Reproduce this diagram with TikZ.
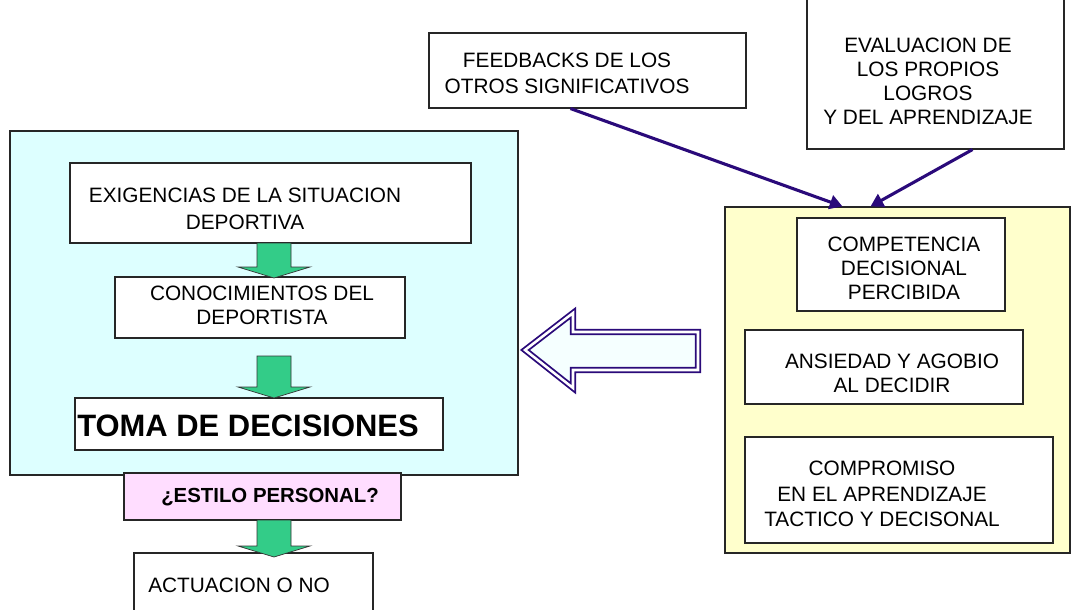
\documentclass[tikz,border=0pt]{standalone}
\usepackage{fontspec}
\setmainfont{Liberation Sans}
\usetikzlibrary{positioning,calc,fit,arrows.meta}

\definecolor{cyanbg}{RGB}{221,255,255}
\definecolor{yellowbg}{RGB}{255,255,204}
\definecolor{pinkbg}{RGB}{255,221,255}
\definecolor{greenfill}{RGB}{51,204,136}
\definecolor{navyarrow}{RGB}{42,10,122}
\definecolor{hollowfill}{RGB}{245,255,255}

\begin{document}
\begin{tikzpicture}[x=0.025cm,y=-0.025cm,
    box/.style={draw=black!85, line width=0.8pt, fill=white, inner sep=0pt},
    txt/.style={align=center, inner sep=0pt, font=\fontsize{14.8}{17}\selectfont},
    feedarrow/.style={draw=navyarrow, line width=2.2pt, -{Triangle[length=9pt,width=10pt]}},
    blockarrow/.style={draw=black!80, fill=greenfill, line width=0.5pt}]
    \useasboundingbox (0,0) rectangle (1071,610);

    % left block
    \node[box, fill=cyanbg, fit={(10,131) (518,475)}] (proceso) {};
    \node[box, fit={(70,163) (471,243)}] (exig) {};
    \node[txt, font=\fontsize{14.8}{19.5}\selectfont] (exigT) at (245,209) {EXIGENCIAS DE LA SITUACION\\DEPORTIVA};
    \node[box, fit={(115,277) (405,338)}] (conoc) {};
    \node[txt] (conocT) at (262,305) {CONOCIMIENTOS DEL\\DEPORTISTA};
    \node[box, fit={(75,398) (443,450)}] (toma) {};
    \node[txt, font=\fontsize{22}{26}\selectfont\bfseries] (tomaT) at (248,426) {TOMA DE DECISIONES};
    \node[box, fill=pinkbg, fit={(124,473) (401,520)}] (estilo) {};
    \node[txt, font=\fontsize{14.5}{17}\selectfont\bfseries] (estiloT) at (270,497) {¿ESTILO PERSONAL?};
    \node[box, fit={(134,553) (373,625)}] (actua) {};
    \node[txt, anchor=west] (actuaT) at (148,585) {ACTUACION O NO};

    % green arrows between the steps
    \foreach \xc/\ya/\yb in {274/243/278, 274/356/398, 274/520/557}
        \draw[blockarrow] ({\xc-17},\ya) -- ({\xc+17},\ya) -- ({\xc+17},{\yb-11})
            -- ({\xc+36},{\yb-11}) -- (\xc,\yb) -- ({\xc-36},{\yb-11})
            -- ({\xc-17},{\yb-11}) -- cycle;

    % right block
    \node[box, fill=yellowbg, fit={(725,207) (1070,553)}] (factores) {};
    \node[box, fit={(797,218) (1005,311)}] (compet) {};
    \node[txt] (competT) at (904,268) {COMPETENCIA\\DECISIONAL\\PERCIBIDA};
    \node[box, fit={(745,330) (1023,404)}] (ansie) {};
    \node[txt] (ansieT) at (892,373) {ANSIEDAD Y AGOBIO\\AL DECIDIR};
    \node[box, fit={(745,437) (1053,543)}] (compro) {};
    \node[txt, font=\fontsize{14.8}{18}\selectfont] (comproT) at (882,494) {COMPROMISO\\EN EL APRENDIZAJE\\TACTICO Y DECISONAL};

    % top boxes
    \node[box, fit={(429,33) (746,108)}] (feed) {};
    \node[txt, font=\fontsize{14.8}{18.5}\selectfont] (feedT) at (567,73) {FEEDBACKS DE LOS\\OTROS SIGNIFICATIVOS};
    \node[box, fit={(807,-3) (1064,149)}] (evalu) {};
    \node[txt] (evaluT) at (928,81) {EVALUACION DE\\LOS PROPIOS\\LOGROS\\Y DEL APRENDIZAJE};

    \draw[feedarrow] ($(feed.south)+(-17,0)$) -- ($(factores.north)+(-55,0)$);
    \draw[feedarrow] ($(evalu.south)+(37,0)$) -- ($(factores.north)+(-27,0)$);

    % hollow arrow towards the decision block
    \draw[navyarrow, fill=hollowfill, line width=1.3pt, double=white, double distance=1.8pt, line join=miter]
        (698,332) -- (573,332) -- (573,313) -- (525,350) -- (573,388) -- (573,370) -- (698,370) -- cycle;
\end{tikzpicture}
\end{document}
